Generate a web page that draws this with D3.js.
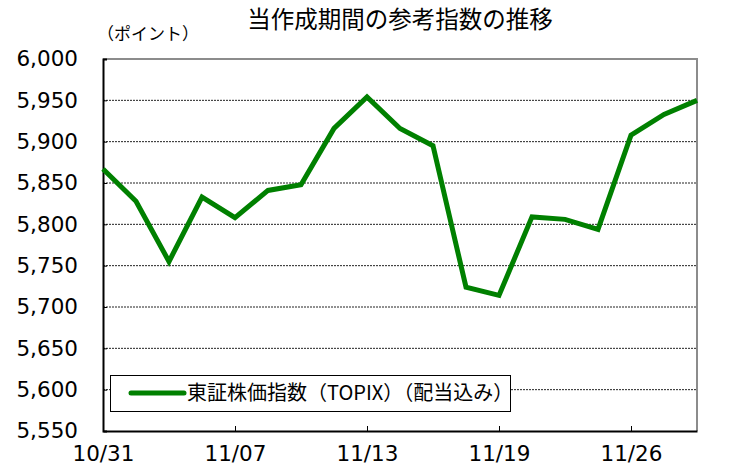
<!DOCTYPE html>
<html><head><meta charset="utf-8">
<script src="https://cdn.jsdelivr.net/npm/d3@7"></script>
<style>
body{margin:0;background:#fff;}
text{fill:#000;}
</style></head>
<body><svg id="c" width="746" height="467"></svg>
<script>
const title = "当作成期間の参考指数の推移";
const unitLabel = "（ポイント）";
const seriesName = "東証株価指数（TOPIX）（配当込み）";
const dates = ["10/31","11/04","11/05","11/06","11/07","11/10","11/11","11/12","11/13","11/14","11/17","11/18","11/19","11/20","11/21","11/25","11/26","11/27","11/28"];
const values = [5867,5828,5755,5833,5808,5841,5848,5916,5954,5916,5895,5724,5714,5809,5806,5794,5908,5933,5950];
const xTickLabels = ["10/31","11/07","11/13","11/19","11/26"];
const yTicks = [5550,5600,5650,5700,5750,5800,5850,5900,5950,6000];

const svg = d3.select("#c");
const L=103, R=697, T=59, B=431;
const x = d3.scalePoint().domain(dates).range([L,R]);
const y = d3.scaleLinear().domain([5550,6000]).range([B,T]);
const numFont = '"DejaVu Sans",Verdana,sans-serif';
const jpFont = '"Noto Sans CJK JP","Noto Sans",sans-serif';

// gridlines
svg.append("g").selectAll("line").data(yTicks.filter(v=>v>5550 && v<6000)).join("line")
  .attr("x1",L).attr("x2",R).attr("y1",d=>y(d)).attr("y2",d=>y(d))
  .attr("stroke","#222").attr("stroke-width",1).attr("stroke-dasharray","2,1");

// top/right frame
svg.append("path").attr("d",`M${L},${T}H${R}V${B}`).attr("fill","none").attr("stroke","#8c8c8c").attr("stroke-width",2);

// y axis
const ya = svg.append("g").attr("transform",`translate(${L},0)`)
  .call(d3.axisLeft(y).tickValues(yTicks).tickSize(-4).tickPadding(25).tickFormat(d3.format(",")));
ya.select(".domain").attr("stroke","#000").attr("stroke-width",2);
ya.selectAll(".tick line").attr("stroke","#000");
ya.selectAll("text").style("font-size","21.5px").style("font-family",numFont);

// x axis
const xa = svg.append("g").attr("transform",`translate(0,${B})`)
  .call(d3.axisBottom(x).tickValues(xTickLabels).tickSize(-5).tickPadding(15).tickSizeOuter(0));
xa.select(".domain").attr("stroke","#000").attr("stroke-width",2);
xa.selectAll(".tick line").attr("stroke","#000");
xa.selectAll("text").style("font-size","21.5px").style("font-family",numFont);

// line
svg.append("path").datum(values)
  .attr("d",d3.line().x((d,i)=>x(dates[i])).y(d=>y(d)))
  .attr("fill","none").attr("stroke","#008000").attr("stroke-width",5).attr("stroke-linejoin","miter");

// title
svg.append("text").attr("x",400).attr("y",28).attr("text-anchor","middle")
  .style("font-size","23.5px").style("font-family",jpFont).text(title);
svg.append("text").attr("x",97).attr("y",40).style("font-size","17px").style("font-family",jpFont).text(unitLabel);

// legend
const lg = svg.append("g");
lg.append("rect").attr("x",110.5).attr("y",375.5).attr("width",400).attr("height",36).attr("fill","#fff").attr("stroke","#000").attr("stroke-width",1);
lg.append("line").attr("x1",131).attr("x2",184).attr("y1",393).attr("y2",393).attr("stroke","#008000").attr("stroke-width",5).attr("stroke-linecap","round");
lg.append("text").attr("x",187).attr("y",400).style("font-size","20px").style("font-family",jpFont).text(seriesName);
</script></body></html>
